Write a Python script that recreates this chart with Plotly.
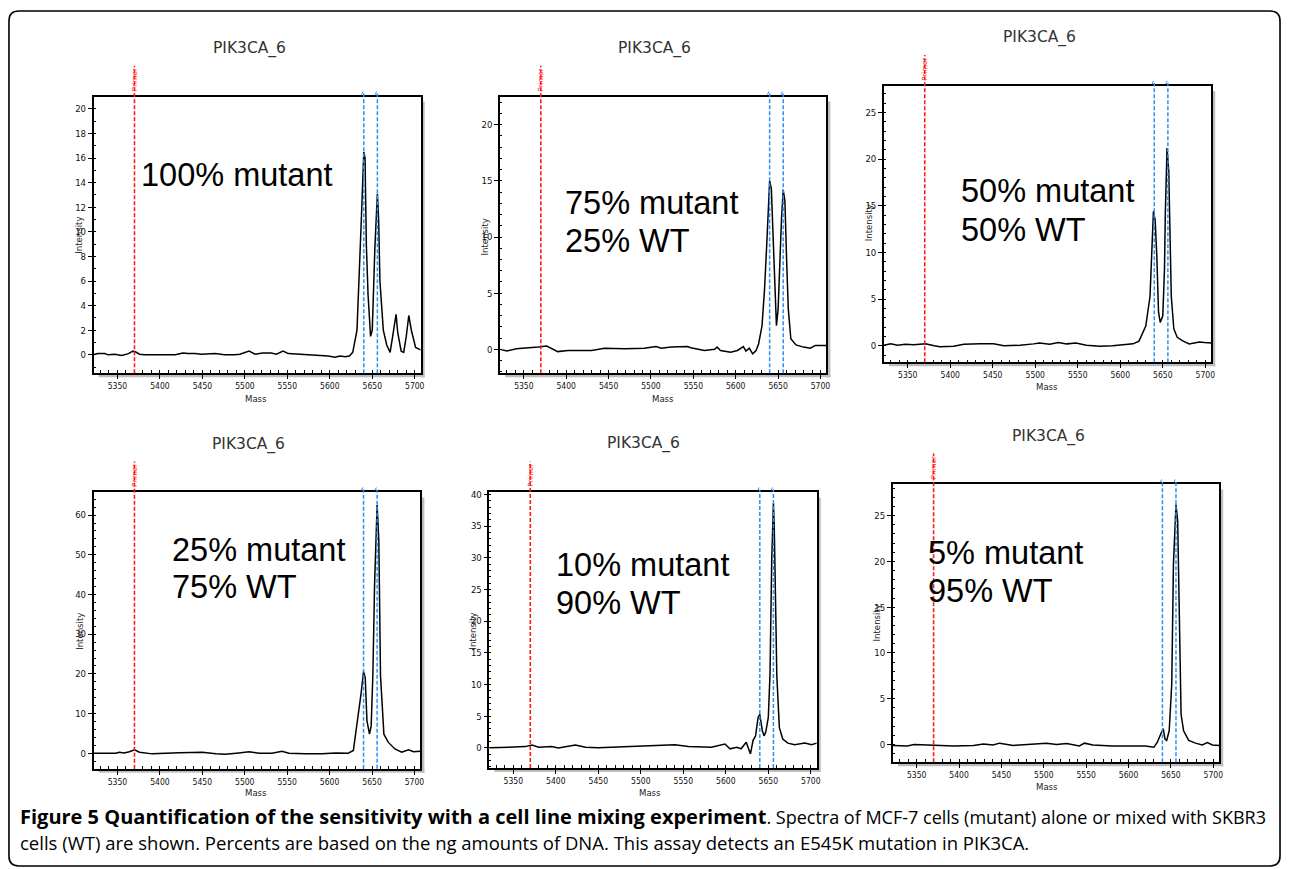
import plotly.graph_objects as go

W, H = 1290, 869

# ---------------- data ----------------
RED_MASS = 5370
BLUE_MASSES = [5640, 5656]
X_RANGE = [5322, 5707]
X_TICK0, X_DTICK = 5350, 50
panel_title = "PIK3CA_6"
x_title = "Mass"
y_title = "Intensity"
primer_label = "Primer"

mass_p1 = [5321, 5327, 5335, 5339, 5347, 5355, 5363, 5368, 5371, 5376,
           5382, 5398, 5418, 5427, 5433, 5441, 5449, 5465, 5476, 5488,
           5494, 5505, 5512, 5521, 5531, 5537, 5545, 5551, 5563, 5578,
           5590, 5598, 5606, 5612, 5618, 5623, 5627, 5632, 5637, 5640,
           5641.5, 5643, 5645, 5648, 5650, 5653, 5656, 5657.5, 5659, 5663,
           5667, 5671, 5674, 5678, 5680, 5684, 5687, 5690, 5693, 5696,
           5701, 5707]
int_p1 = [0.0, 0.1, 0.1, 0.0, 0.05, -0.05, 0.1, 0.3, 0.25, 0.05,
          0.0, 0.0, 0.0, 0.15, 0.1, 0.1, 0.05, 0.1, 0.0, 0.0,
          0.05, 0.3, 0.05, 0.15, 0.15, 0.05, 0.3, 0.1, 0.05, 0.0,
          -0.05, -0.1, -0.2, -0.1, -0.15, -0.1, 0.2, 2.0, 10.8, 16.5,
          16.0, 9.0, 4.9, 1.5, 2.0, 8.6, 13.1, 11.0, 6.0, 2.0,
          0.8, 0.2, 1.5, 3.3, 1.8, 0.3, 0.2, 1.5, 3.2, 2.0,
          0.6, 0.4]

mass_p2 = [5322, 5330, 5341, 5351, 5367, 5377, 5387, 5390, 5402, 5414,
           5430, 5445, 5469, 5492, 5506, 5512, 5524, 5543, 5547, 5563,
           5575, 5578, 5582, 5594, 5602, 5609, 5612, 5616, 5620, 5624,
           5627, 5631, 5634, 5637, 5640, 5642, 5644, 5646, 5648, 5650,
           5652, 5654, 5656, 5658, 5660, 5662, 5665, 5671, 5680, 5688,
           5694, 5707]
int_p2 = [0.0, -0.15, 0.05, 0.1, 0.2, 0.3, -0.1, -0.2, -0.1, -0.1,
          -0.1, 0.1, 0.05, 0.1, 0.25, 0.1, 0.2, 0.25, 0.15, -0.1,
          0.0, 0.2, -0.1, -0.25, -0.1, 0.25, -0.15, 0.1, -0.4, -0.1,
          0.5, 2.1, 5.4, 10.0, 15.0, 14.3, 9.9, 5.4, 2.1, 3.6,
          8.0, 11.6, 14.2, 13.2, 8.0, 3.6, 0.95, 0.4, 0.2, 0.1,
          0.35, 0.35]

mass_p3 = [5322, 5330, 5338, 5347, 5357, 5371, 5381, 5388, 5404, 5416,
           5435, 5451, 5463, 5482, 5498, 5505, 5517, 5527, 5537, 5548,
           5560, 5576, 5591, 5603, 5615, 5622, 5630, 5635, 5637, 5639,
           5641, 5643, 5645, 5647, 5650, 5652, 5653, 5655, 5657, 5658,
           5660, 5663, 5667, 5673, 5681, 5687, 5693, 5699, 5704, 5707]
int_p3 = [0.05, 0.2, 0.05, 0.15, 0.1, 0.2, 0.0, -0.1, -0.05, 0.15,
          0.2, 0.2, 0.0, 0.05, 0.2, 0.3, 0.15, 0.35, 0.2, 0.3,
          0.05, -0.05, 0.0, 0.1, 0.2, 0.5, 2.1, 5.3, 10.0, 14.4,
          13.5, 9.6, 3.6, 2.5, 3.2, 8.2, 14.2, 21.2, 18.8, 13.2,
          5.3, 1.8, 0.9, 0.55, 0.2, 0.3, 0.4, 0.35, 0.3, 0.3]

mass_p4 = [5322, 5348, 5352, 5358, 5364, 5370, 5376, 5385, 5391, 5423,
           5442, 5450, 5466, 5477, 5493, 5505, 5517, 5532, 5544, 5552,
           5571, 5591, 5607, 5622, 5628, 5634, 5637, 5640, 5642, 5644,
           5647, 5649, 5651, 5653, 5656, 5658, 5660, 5664, 5669, 5677,
           5685, 5693, 5699, 5707]
int_p4 = [0.0, 0.0, 0.25, 0.1, 0.4, 0.85, 0.25, 0.0, -0.15, 0.15,
          0.15, 0.25, -0.1, -0.25, 0.1, 0.4, 0.0, 0.0, 0.5, 0.0,
          -0.1, -0.1, 0.1, 0.0, 0.7, 9.9, 14.9, 20.6, 19.0, 8.2,
          4.8, 6.9, 19.9, 42.4, 62.5, 53.7, 19.5, 4.8, 2.8, 1.1,
          0.25, 0.85, 0.4, 0.5]

mass_p5 = [5322, 5349, 5364, 5372, 5380, 5395, 5403, 5423, 5435, 5450,
           5470, 5497, 5521, 5540, 5556, 5583, 5599, 5605, 5613, 5618,
           5624, 5627, 5629, 5632, 5635, 5638, 5640, 5643, 5645, 5647,
           5650, 5652, 5654, 5656, 5657, 5659, 5660, 5663, 5667, 5673,
           5681, 5693, 5701, 5707]
int_p5 = [0.0, 0.1, 0.2, 0.45, 0.1, 0.2, 0.0, 0.45, 0.1, 0.0,
          0.1, 0.2, 0.35, 0.5, 0.2, 0.1, 0.6, -0.15, 0.1, -0.15,
          0.9, -0.4, -0.95, 1.15, 1.9, 4.8, 5.3, 2.7, 1.9, 2.5,
          4.8, 11.6, 29.4, 38.6, 34.9, 19.5, 11.4, 3.2, 1.4, 0.75,
          0.5, 0.75, 0.5, 0.75]

mass_p6 = [5322, 5339, 5347, 5362, 5378, 5394, 5417, 5429, 5440, 5448,
           5464, 5487, 5503, 5515, 5527, 5542, 5548, 5558, 5581, 5601,
           5620, 5630, 5634, 5638, 5641, 5643, 5645, 5648, 5651, 5653,
           5656, 5658, 5660, 5662, 5665, 5671, 5679, 5687, 5693, 5699,
           5707]
int_p6 = [-0.1, -0.15, 0.0, -0.05, -0.05, -0.15, -0.1, 0.05, -0.05, 0.15,
          -0.1, 0.0, 0.15, 0.0, 0.1, -0.15, 0.15, -0.05, -0.15, -0.15,
          -0.15, -0.3, 0.25, 1.15, 1.7, 0.6, 0.45, 1.5, 6.6, 19.7,
          26.2, 24.4, 12.8, 3.3, 1.5, 0.45, 0.15, -0.05, 0.2, -0.05,
          -0.1]

sample_labels = [["100% mutant"],
                 ["75% mutant", "25% WT"],
                 ["50% mutant", "50% WT"],
                 ["25% mutant", "75% WT"],
                 ["10% mutant", "90% WT"],
                 ["5% mutant", "95% WT"]]
y_tick_step = [2, 5, 5, 10, 5, 5]
y_minor_step = [1, 1, 1, 2, 1, 1]

caption_bold = "Figure 5 Quantification of the sensitivity with a cell line mixing experiment"
caption_rest1 = ". Spectra of MCF-7 cells (mutant) alone or mixed with SKBR3"
caption_line2 = ("cells (WT) are shown. Percents are based on the ng amounts of DNA. "
                 "This assay detects an E545K mutation in PIK3CA.")

masses = [mass_p1, mass_p2, mass_p3, mass_p4, mass_p5, mass_p6]
intens = [int_p1, int_p2, int_p3, int_p4, int_p5, int_p6]

# ---------------- layout geometry (pixels) ----------------
geom = [
    dict(box=(94, 422, 93, 371), yr=(-1.5, 21.0), title=(250, 45), lab=(140, [171.7]), ylab=(79, 232), xlab=(257, 396)),
    dict(box=(501.7, 829, 93, 371), yr=(-2.13, 22.5), title=(656.7, 45), lab=(566, [200, 238]), ylab=(486, 234), xlab=(665, 396)),
    dict(box=(886.7, 1215, 82.3, 360), yr=(-1.78, 27.85), title=(1042.7, 33.3), lab=(962.7, [188.3, 227.3]), ylab=(872, 220), xlab=(1050, 384)),
    dict(box=(94, 421.7, 490.7, 768.3), yr=(-3.9, 65.7), title=(249, 442.7), lab=(171.7, [548.3, 585.7]), ylab=(79, 630), xlab=(257, 792)),
    dict(box=(491, 819.3, 490.7, 767.5), yr=(-3.17, 40.3), title=(645, 441.7), lab=(556.7, [563.3, 601.7]), ylab=(474, 630), xlab=(652, 792)),
    dict(box=(895.7, 1223, 482.7, 761.7), yr=(-1.93, 28.4), title=(1051.7, 435), lab=(930, [551.7, 590]), ylab=(879, 622), xlab=(1050, 786)),
]


def px(x):
    return x / W


def py(y):
    return 1 - y / H


TICK_FONT = "DejaVu Sans Condensed, Liberation Sans Narrow, DejaVu Sans"
RED = "#ff1a1a"
BLUE = "#2b8ff0"

fig = go.Figure()
layout = dict(
    width=W, height=H,
    margin=dict(l=0, r=0, t=0, b=0),
    paper_bgcolor="white", plot_bgcolor="white",
    showlegend=False, hovermode=False,
)
shapes = []
annotations = []

for i, g in enumerate(geom):
    n = "" if i == 0 else str(i + 1)
    xa, ya = "x" + n, "y" + n
    L, R, T, B = g["box"]
    hbox = B - T
    fig.add_trace(go.Scatter(x=masses[i], y=intens[i], mode="lines",
                             line=dict(color="black", width=1.5),
                             xaxis=xa, yaxis=ya))
    layout["xaxis" + n] = dict(
        domain=[px(L), px(R)], range=X_RANGE, anchor=ya,
        showline=True, mirror=True, linecolor="black", linewidth=1.6,
        showgrid=False, zeroline=False,
        tick0=X_TICK0, dtick=X_DTICK, ticks="outside", ticklen=4, tickcolor="black",
        minor=dict(dtick=10, ticks="inside", ticklen=3, tickcolor="black", showgrid=False),
        tickfont=dict(family=TICK_FONT, size=8.5, color="#111"),
    )
    layout["yaxis" + n] = dict(
        domain=[py(B), py(T)], range=list(g["yr"]), anchor=xa,
        showline=True, mirror=True, linecolor="black", linewidth=1.6,
        showgrid=False, zeroline=False,
        tick0=0, dtick=y_tick_step[i], ticks="outside", ticklen=4, tickcolor="black",
        minor=dict(dtick=y_minor_step[i], ticks="inside", ticklen=2, tickcolor="black", showgrid=False),
        tickfont=dict(family=TICK_FONT, size=9.5, color="#111"),
    )
    # shadow of the plot frame
    shapes.append(dict(type="rect", xref="paper", yref="paper", layer="below",
                       x0=px(R + 1), x1=px(R + 4), y0=py(B + 4), y1=py(T + 5),
                       fillcolor="#bdbdbd", line=dict(width=0)))
    shapes.append(dict(type="rect", xref="paper", yref="paper", layer="below",
                       x0=px(L + 5), x1=px(R + 4), y0=py(B + 4), y1=py(B + 1),
                       fillcolor="#bdbdbd", line=dict(width=0)))
    # red primer line, extending above the frame
    shapes.append(dict(type="line", xref=xa, yref=ya + " domain",
                       x0=RED_MASS, x1=RED_MASS, y0=0, y1=1 + 31 / hbox,
                       line=dict(color=RED, width=1.6, dash="4px,2px")))
    annotations.append(dict(xref=xa, yref=ya + " domain", x=RED_MASS, y=1 + 17 / hbox,
                            text=primer_label, textangle=-90, showarrow=False,
                            font=dict(family="DejaVu Sans", size=7, color=RED),
                            xanchor="center", yanchor="middle"))
    # blue expected-mass lines
    for bm in BLUE_MASSES:
        shapes.append(dict(type="line", xref=xa, yref=ya + " domain",
                           x0=bm, x1=bm, y0=0, y1=1 + 3 / hbox,
                           line=dict(color=BLUE, width=1.5, dash="4px,2px")))
        shapes.append(dict(type="line", xref=xa, yref=ya + " domain",
                           x0=bm - 2.5, x1=bm - 1.0, y0=1 + 2 / hbox, y1=1 + 5 / hbox,
                           line=dict(color=BLUE, width=1)))
    # panel title
    annotations.append(dict(xref="paper", yref="paper", x=px(g["title"][0]), y=py(g["title"][1]),
                            text=panel_title, showarrow=False, xanchor="center", yanchor="middle",
                            font=dict(family="DejaVu Sans", size=15.5, color="#333")))
    # sample label lines
    lx, lys = g["lab"]
    for line_text, ly in zip(sample_labels[i], lys):
        annotations.append(dict(xref="paper", yref="paper", x=px(lx), y=py(ly),
                                text=line_text, showarrow=False, xanchor="left", yanchor="middle",
                                borderpad=0,
                                font=dict(family="Liberation Sans, Arial", size=32.5, color="black")))
    # axis titles
    annotations.append(dict(xref="paper", yref="paper", x=px(g["ylab"][0]), y=py(g["ylab"][1]),
                            text=y_title, textangle=-90, showarrow=False,
                            xanchor="center", yanchor="middle",
                            font=dict(family=TICK_FONT, size=9.5, color="#222")))
    annotations.append(dict(xref="paper", yref="paper", x=px(g["xlab"][0]), y=py(g["xlab"][1]),
                            text=x_title, showarrow=False, xanchor="center", yanchor="middle",
                            font=dict(family=TICK_FONT, size=9.5, color="#222")))

# caption
line1 = f'<span style="font-size:20px"><b>{caption_bold}</b></span>{caption_rest1}'
annotations.append(dict(xref="paper", yref="paper", x=px(18), y=py(816), text=line1,
                        showarrow=False, xanchor="left", yanchor="middle", align="left",
                        font=dict(family="Open Sans", size=18, color="black")))
annotations.append(dict(xref="paper", yref="paper", x=px(18), y=py(842), text=caption_line2,
                        showarrow=False, xanchor="left", yanchor="middle", align="left",
                        font=dict(family="Open Sans", size=18.5, color="black")))

# rounded outer frame
x0, y0, x1, y1, r = 9, 7, 1284, 866, 10
path = (f"M {px(x0 + r)},{py(y0)} L {px(x1 - r)},{py(y0)} "
        f"Q {px(x1)},{py(y0)} {px(x1)},{py(y0 + r)} "
        f"L {px(x1)},{py(y1 - r)} Q {px(x1)},{py(y1)} {px(x1 - r)},{py(y1)} "
        f"L {px(x0 + r)},{py(y1)} Q {px(x0)},{py(y1)} {px(x0)},{py(y1 - r)} "
        f"L {px(x0)},{py(y0 + r)} Q {px(x0)},{py(y0)} {px(x0 + r)},{py(y0)} Z")
shapes.append(dict(type="path", xref="paper", yref="paper", path=path,
                   line=dict(color="black", width=1.6)))

layout["shapes"] = shapes
layout["annotations"] = annotations
fig.update_layout(**layout)

fig.write_html("out.html", config=dict(displayModeBar=False),
               post_script="document.body.style.margin='0';")
